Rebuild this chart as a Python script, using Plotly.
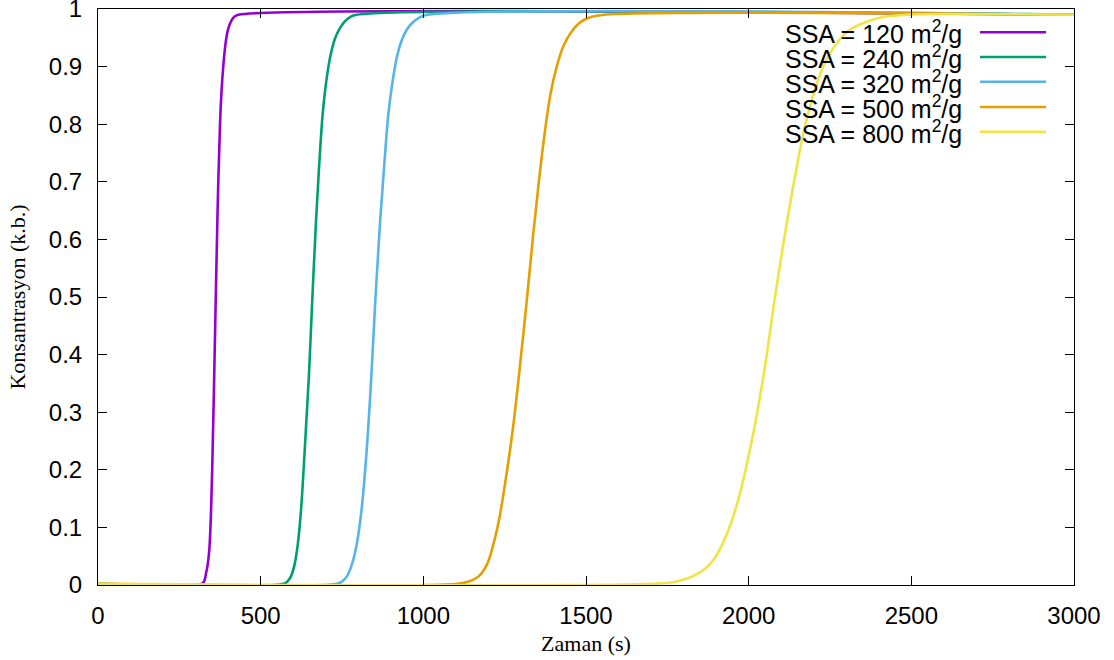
import plotly.graph_objects as go

# Time (s) and concentration (k.b.)
t120 = [0, 318, 326, 332, 337, 342, 347, 351, 356, 362, 368, 375, 380, 385, 392, 400, 410, 420, 432, 3000]
c120 = [0.002, 0.002, 0.006, 0.02, 0.035, 0.06, 0.12, 0.2, 0.33, 0.5, 0.66, 0.8, 0.86, 0.9, 0.94,
        0.965, 0.98, 0.987, 0.99, 0.99]

t240 = [0, 570, 582, 593, 604, 614, 624, 636, 648, 659, 670, 680, 691, 703, 715, 728, 742, 758, 775,
        795, 3000]
c240 = [0.002, 0.002, 0.006, 0.015, 0.035, 0.07, 0.13, 0.24, 0.36, 0.5, 0.63, 0.73, 0.82, 0.88, 0.92,
        0.948, 0.965, 0.978, 0.986, 0.99, 0.99]

t320 = [0, 734, 750, 765, 780, 795, 810, 824, 838, 853, 867, 880, 893, 907, 920, 935, 950, 968, 988,
        1012, 3000]
c320 = [0.002, 0.002, 0.006, 0.015, 0.035, 0.07, 0.13, 0.22, 0.34, 0.5, 0.63, 0.73, 0.82, 0.88, 0.92,
        0.948, 0.965, 0.977, 0.985, 0.99, 0.99]

t500 = [0, 1105, 1140, 1170, 1195, 1215, 1235, 1255, 1275, 1297, 1319, 1338, 1355, 1372, 1390, 1410,
        1430, 1455, 1485, 1515, 1555, 3000]
c500 = [0.002, 0.002, 0.006, 0.015, 0.035, 0.07, 0.12, 0.19, 0.27, 0.38, 0.5, 0.61, 0.7, 0.78, 0.85,
        0.9, 0.935, 0.96, 0.978, 0.986, 0.99, 0.99]

t800 = [0, 1700, 1779, 1845, 1891, 1934, 1968, 2014, 2050, 2081, 2112, 2148, 2168, 2194, 2229, 2270,
        2311, 2363, 2414, 2486, 3000]
c800 = [0.002, 0.002, 0.006, 0.02, 0.043, 0.09, 0.148, 0.263, 0.379, 0.5, 0.611, 0.726, 0.784, 0.842,
        0.9, 0.94, 0.964, 0.978, 0.986, 0.99, 0.99]

labels = ["SSA = 120 m<sup>2</sup>/g", "SSA = 240 m<sup>2</sup>/g", "SSA = 320 m<sup>2</sup>/g",
          "SSA = 500 m<sup>2</sup>/g", "SSA = 800 m<sup>2</sup>/g"]
colors = ["#9400d3", "#009e73", "#56b4e9", "#e69f00", "#f0e442"]
series = [(t120, c120), (t240, c240), (t320, c320), (t500, c500), (t800, c800)]

SANS = "Liberation Sans, Arial, Helvetica, sans-serif"
SERIF = "Liberation Serif, Times New Roman, serif"

fig = go.Figure()
for (t, c), lab, col in zip(series, labels, colors):
    fig.add_trace(go.Scatter(x=t, y=c, mode="lines", name=lab,
                             line=dict(color=col, width=2.6, shape="spline", smoothing=1.0),
                             showlegend=False))

W, H = 1114, 660
L, R, T, B = 98, 40, 9, 75
pw, ph = W - L - R, H - T - B

# gnuplot-style legend: text right-aligned, line sample to the right
rows_y = [32.3, 57, 81.7, 107, 131.7]
for lab, col, yp in zip(labels, colors, rows_y):
    yf = 1 - (yp - T) / ph
    fig.add_annotation(x=(964 - L) / pw, y=yf, xref="paper", yref="paper",
                       text=lab, showarrow=False, xanchor="right", yanchor="middle",
                       font=dict(family=SANS, size=25, color="black"))
    fig.add_shape(type="line", xref="paper", yref="paper",
                  x0=(980 - L) / pw, x1=(1046 - L) / pw, y0=yf, y1=yf,
                  line=dict(color=col, width=2.6))

axis_common = dict(showline=True, linecolor="black", linewidth=1, mirror="allticks",
                   ticks="inside", ticklen=9, tickcolor="black", tickwidth=1,
                   showgrid=False, zeroline=False, ticklabeloverflow="allow",
                   tickfont=dict(family=SANS, size=24, color="black"))

fig.update_xaxes(range=[0, 3000], tickvals=[0, 500, 1000, 1500, 2000, 2500, 3000],
                 ticklabelstandoff=9,
                 title=dict(text="Zaman (s)", standoff=7,
                            font=dict(family=SERIF, size=22, color="black")),
                 **axis_common)
fig.update_yaxes(range=[0, 1], tickvals=[0, 0.1, 0.2, 0.3, 0.4, 0.5, 0.6, 0.7, 0.8, 0.9, 1],
                 ticktext=["0", "0.1", "0.2", "0.3", "0.4", "0.5", "0.6", "0.7", "0.8", "0.9", "1"],
                 ticklabelstandoff=10,
                 title=dict(text="Konsantrasyon (k.b.)", standoff=17,
                            font=dict(family=SERIF, size=22, color="black")),
                 **axis_common)

fig.update_layout(width=W, height=H, margin=dict(l=L, r=R, t=T, b=B, autoexpand=False),
                  plot_bgcolor="white", paper_bgcolor="white", showlegend=False)

fig.write_html("out.html", config={"displayModeBar": False},
               post_script="document.body.style.margin='0';document.body.style.padding='0';")
